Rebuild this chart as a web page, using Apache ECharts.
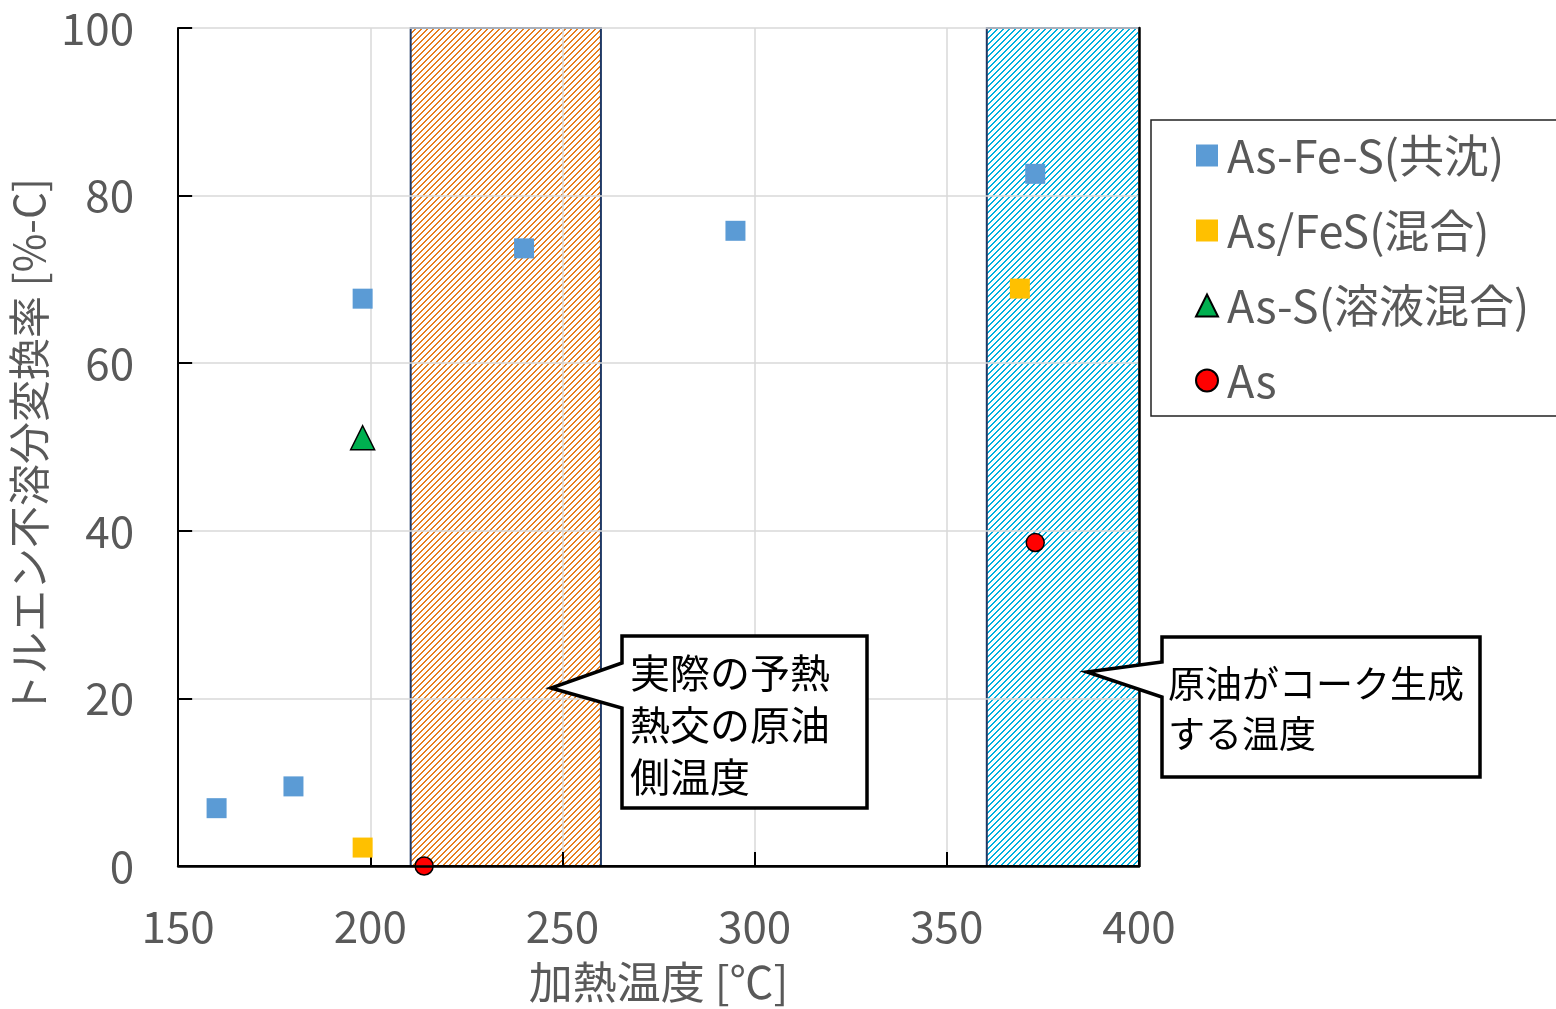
<!DOCTYPE html>
<html>
<head>
<meta charset="utf-8">
<script src="https://cdn.jsdelivr.net/npm/echarts@6/dist/echarts.min.js"></script>
<style>html,body{margin:0;padding:0;background:#fff;}#c{width:1556px;height:1009px;}</style>
</head>
<body>
<div id="c"></div>
<script>
// ---- data ----
const seriesNames = ['As-Fe-S(共沈)', 'As/FeS(混合)', 'As-S(溶液混合)', 'As'];
const feX = [160, 180, 198, 240, 295, 373];
const feY = [6.9, 9.5, 67.7, 73.7, 75.8, 82.6];
const mixX = [198, 369];
const mixY = [2.2, 68.9];
const solX = [198];
const solY = [51.1];
const asX = [214, 373];
const asY = [0, 38.6];
const band1 = [210.5, 260];
const band2 = [360.4, 400];
const xTicks = [150, 200, 250, 300, 350, 400];
const yTicks = [0, 20, 40, 60, 80, 100];
const callout1 = ['実際の予熱', '熱交の原油', '側温度'];
const callout2 = ['原油がコーク生成', 'する温度'];

function zip(a, b) { return a.map((v, i) => [v, b[i]]); }

function hatch(color) {
  const s = 6;
  const cv = document.createElement('canvas');
  cv.width = s; cv.height = s;
  const g = cv.getContext('2d');
  g.fillStyle = color;
  for (let i = 0; i < s; i++) {
    g.fillRect(i, s - 1 - i, 1, 1);
    g.fillRect(i, (s - i) % s, 1, 1);
  }
  return { image: cv, repeat: 'repeat' };
}

const FONT = '"Noto Sans CJK JP", "Noto Sans", sans-serif';
const chart = echarts.init(document.getElementById('c'), null, { renderer: 'canvas' });

function callout(pts, lines, tx, ty, lh, fs) {
  return [
    { type: 'polygon', z: 50, shape: { points: pts },
      style: { fill: '#fff', stroke: '#000', lineWidth: 3.5, lineJoin: 'miter' } },
    { type: 'text', z: 51, left: tx, top: ty,
      style: { text: lines.join('\n'), font: fs + 'px ' + FONT, fill: '#000', lineHeight: lh } }
  ];
}

const option = {
  animation: false,
  backgroundColor: '#fff',
  grid: { left: 177, right: 417, top: 28, bottom: 141, containLabel: false },
  xAxis: [{
    type: 'value', min: 150, max: 400, interval: 50, z: 3,
    name: '加熱温度 [℃]', nameLocation: 'middle', nameGap: 94,
    nameTextStyle: { fontFamily: FONT, fontSize: 44, color: '#595959' },
    axisLine: { show: true, lineStyle: { color: '#000', width: 2 } },
    axisTick: { show: true, inside: true, length: 14, lineStyle: { color: '#000', width: 2 } },
    axisLabel: { fontFamily: FONT, fontSize: 44, color: '#595959', margin: 38,
      formatter: v => xTicks.includes(v) ? String(v) : '' },
    splitLine: { show: true, lineStyle: { color: '#d9d9d9', width: 1.5 } }
  }, {
    type: 'value', position: 'top', min: 150, max: 400, z: 10,
    axisLine: { show: true, lineStyle: { color: '#000', width: 2.5 } },
    axisTick: { show: false }, axisLabel: { show: false }, splitLine: { show: false }
  }],
  yAxis: [{
    type: 'value', min: 0, max: 100, interval: 20, z: 3,
    name: 'トルエン不溶分変換率 [%-C]', nameLocation: 'middle', nameGap: 112,
    nameTextStyle: { fontFamily: FONT, fontSize: 42, color: '#595959' },
    axisLine: { show: true, lineStyle: { color: '#000', width: 2 } },
    axisTick: { show: true, inside: true, length: 14, lineStyle: { color: '#000', width: 2 } },
    axisLabel: { fontFamily: FONT, fontSize: 44, color: '#595959', margin: 44,
      formatter: v => yTicks.includes(v) ? String(v) : '' },
    splitLine: { show: true, lineStyle: { color: '#d9d9d9', width: 1.5 } }
  }, {
    type: 'value', position: 'right', min: 0, max: 100, z: 10,
    axisLine: { show: true, lineStyle: { color: '#000', width: 2.5 } },
    axisTick: { show: false }, axisLabel: { show: false }, splitLine: { show: false }
  }],
  legend: {
    orient: 'vertical', left: 1151, top: 120,
    padding: [13, 80, 13, 44],
    itemGap: 30, itemWidth: 22, itemHeight: 22,
    borderColor: '#222', borderWidth: 1.5, backgroundColor: '#fff',
    textStyle: { fontFamily: FONT, fontSize: 45, color: '#595959', lineHeight: 44, padding: [0, 0, 0, 4] },
    data: seriesNames.map(n => ({ name: n }))
  },
  series: [
    {
      name: 'bands', type: 'scatter', z: 1, data: [], silent: true,
      markArea: {
        silent: true, z: 1,
        data: [
          [{ xAxis: band1[0], yAxis: 0, itemStyle: { color: hatch('#E67E1E'), borderColor: '#1F3864', borderWidth: 2, opacity: 1 } },
           { xAxis: band1[1], yAxis: 100 }],
          [{ xAxis: band2[0], yAxis: 0, itemStyle: { color: hatch('#00B0E0'), borderColor: '#1F3864', borderWidth: 2, opacity: 1 } },
           { xAxis: band2[1], yAxis: 100 }]
        ]
      }
    },
    { name: seriesNames[0], type: 'scatter', symbol: 'rect', symbolSize: 20, z: 5,
      itemStyle: { color: '#5B9BD5', opacity: 1 }, data: zip(feX, feY) },
    { name: seriesNames[1], type: 'scatter', symbol: 'rect', symbolSize: 20, z: 5,
      itemStyle: { color: '#FFC000', opacity: 1 }, data: zip(mixX, mixY) },
    { name: seriesNames[2], type: 'scatter', symbol: 'triangle', symbolSize: 24, z: 5,
      itemStyle: { color: '#00B050', borderColor: '#000', borderWidth: 1.5, opacity: 1 }, data: zip(solX, solY) },
    { name: seriesNames[3], type: 'scatter', symbol: 'circle', symbolSize: 18, z: 5,
      itemStyle: { color: '#FF0000', borderColor: '#000', borderWidth: 1.5, opacity: 1 }, data: zip(asX, asY) }
  ],
  graphic: [
    ...callout([[622, 636], [867, 636], [867, 808], [622, 808], [622, 708], [551, 688], [622, 663]],
      callout1, 630, 647, 52, 40),
    ...callout([[1162, 637], [1480, 637], [1480, 777], [1162, 777], [1162, 697], [1087, 672], [1162, 662]],
      callout2, 1168, 659, 50, 37)
  ]
};
chart.setOption(option);
</script>
</body>
</html>
